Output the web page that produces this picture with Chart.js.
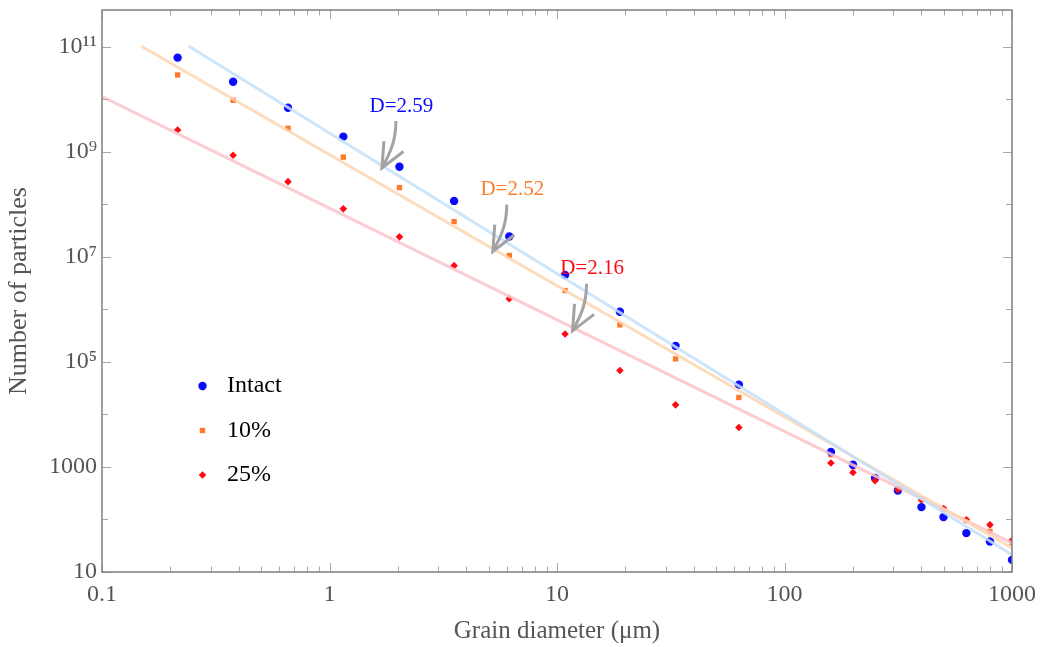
<!DOCTYPE html>
<html>
<head>
<meta charset="utf-8">
<script src="https://cdn.jsdelivr.net/npm/chart.js@4.4.1/dist/chart.umd.min.js"></script>
<style>
  html, body { margin: 0; padding: 0; background: #ffffff; }
  #wrap { width: 1042px; height: 647px; }
</style>
</head>
<body>
<div id="wrap"><canvas id="chart" width="1042" height="647"></canvas></div>
<script>
// Grain diameters (µm) and particle counts for each sample
const diameters = [0.215, 0.377, 0.657, 1.15, 2.03, 3.53, 6.17, 10.85, 18.9, 33.2, 63, 160, 200, 250, 315, 400, 500, 630, 800, 1000];
const intact    = [6.2e10, 2.16e10, 6.9e9, 1.94e9, 5.2e8, 1.16e8, 2.43e7, 4.5e6, 9.0e5, 2.02e5, 3.66e4, 1920, 1100, 614, 357, 172, 111, 55, 38, 17];
const crushed10 = [2.9e10, 9.55e9, 2.8e9, 7.9e8, 2.08e8, 4.68e7, 1.06e7, 2.28e6, 5.07e5, 1.14e5, 2.1e4, 1705, 1020, 631, 368, 238, 160, 96, 59, 36.5];
const crushed25 = [2.6e9, 8.6e8, 2.7e8, 8.2e7, 2.4e7, 6.8e6, 1.6e6, 3.39e5, 6.85e4, 1.52e4, 5640, 1185, 785, 546, 368, 238, 162, 99, 79, 40];

// Power-law fit lines (end points)
const fitIntactX = [0.241, 1000];
const fitIntactY = [1.02e11, 21.4];
const fit10X = [0.149, 1000];
const fit10Y = [1.02e11, 28.6];
const fit25X = [0.1, 1000];
const fit25Y = [1.12e10, 35.6];

// Fractal dimension labels
const dimLabels = ['D=2.59', 'D=2.52', 'D=2.16'];
const dimArrowTipX = [1.70, 5.22, 11.7];
const dimArrowTipY = [4.9e8, 1.26e7, 3.9e5];

// Axis ticks
const xTickValues = [0.1, 1, 10, 100, 1000];
const xTickLabels = ['0.1', '1', '10', '100', '1000'];
const yTickValues = [10, 1e2, 1e3, 1e4, 1e5, 1e6, 1e7, 1e8, 1e9, 1e10, 1e11];
const yTickLabels = ['10', '', '1000', '', '10\u2075', '', '10\u2077', '', '10\u2079', '', '10\u00b9\u00b9'];

const seriesNames = ['Intact', '10%', '25%'];

const BLUE = '#0a0aff';
const ORANGE = '#ff7a2a';
const RED = '#ff0a14';
const SERIF = '"Liberation Serif", "Times New Roman", serif';

const pts = (xs, ys) => xs.map((x, i) => ({ x: x, y: ys[i] }));

const pointDataset = (label, ys, color, style, radius, order) => ({
  label: label,
  data: pts(diameters, ys),
  showLine: false,
  pointStyle: style,
  pointRadius: radius,
  pointHoverRadius: radius,
  pointBackgroundColor: color,
  pointBorderColor: color,
  pointBorderWidth: 0,
  order: order
});

const lineDataset = (label, xs, ys, color) => ({
  label: label,
  data: pts(xs, ys),
  showLine: true,
  borderColor: color,
  borderWidth: 3,
  pointRadius: 0,
  pointHoverRadius: 0,
  order: -1
});

// Frame around the plot area with inward tick marks on all four sides
const frameTicks = {
  id: 'frameTicks',
  afterDatasetsDraw(chart) {
    const { ctx, chartArea: a, scales: { x, y } } = chart;
    ctx.save();
    ctx.strokeStyle = '#a8a8a8';
    ctx.lineWidth = 1;
    const xTick = (v, len) => {
      const px = Math.round(x.getPixelForValue(v)) + 0.5;
      ctx.beginPath();
      ctx.moveTo(px, a.bottom); ctx.lineTo(px, a.bottom - len);
      ctx.moveTo(px, a.top); ctx.lineTo(px, a.top + len);
      ctx.stroke();
    };
    const yTick = (v, len) => {
      const py = Math.round(y.getPixelForValue(v)) + 0.5;
      ctx.beginPath();
      ctx.moveTo(a.left, py); ctx.lineTo(a.left + len, py);
      ctx.moveTo(a.right, py); ctx.lineTo(a.right - len, py);
      ctx.stroke();
    };
    for (let e = -1; e < 3; e++) {
      for (let k = 2; k <= 9; k++) xTick(k * Math.pow(10, e), 5.5);
    }
    xTickValues.forEach(v => xTick(v, 9));
    yTickValues.forEach((v, i) => yTick(v, yTickLabels[i] ? 9 : 6));
    ctx.strokeStyle = '#7f7f7f';
    ctx.lineWidth = 1.5;
    ctx.strokeRect(a.left, a.top, a.right - a.left, a.bottom - a.top);
    ctx.restore();
  }
};

// Legend drawn inside the plot area
const insetLegend = {
  id: 'insetLegend',
  afterDatasetsDraw(chart) {
    const { ctx, chartArea: a } = chart;
    ctx.save();
    ctx.font = '24px ' + SERIF;
    ctx.textBaseline = 'middle';
    ctx.textAlign = 'left';
    seriesNames.forEach((name, i) => {
      const ds = chart.data.datasets.find(d => d.label === name);
      const mx = a.left + 100.5;
      const my = a.top + 376 + i * 44.5;
      ctx.fillStyle = ds.pointBackgroundColor;
      Chart.helpers.drawPoint(ctx, {
        pointStyle: ds.pointStyle, radius: ds.pointRadius, rotation: 0, borderWidth: 0
      }, mx, my);
      ctx.fillStyle = '#000000';
      ctx.fillText(name, a.left + 125, my);
    });
    ctx.restore();
  }
};

// Curved arrows with the fractal dimension of each fit
const dimAnnotations = {
  id: 'dimAnnotations',
  afterDatasetsDraw(chart) {
    const { ctx, scales: { x, y } } = chart;
    const colors = [BLUE, ORANGE, RED];
    ctx.save();
    dimLabels.forEach((txt, i) => {
      const tx = x.getPixelForValue(dimArrowTipX[i]);
      const ty = y.getPixelForValue(dimArrowTipY[i]);
      ctx.strokeStyle = '#a3a3a3';
      ctx.lineWidth = 3;
      ctx.lineJoin = 'miter';
      ctx.beginPath();
      ctx.moveTo(tx + 14, ty - 47);
      ctx.bezierCurveTo(tx + 14, ty - 30, tx + 10, ty - 18, tx + 1, ty - 2);
      ctx.stroke();
      ctx.beginPath();
      ctx.moveTo(tx + 2, ty - 27);
      ctx.lineTo(tx, ty);
      ctx.lineTo(tx + 21.5, ty - 16.5);
      ctx.stroke();
      ctx.font = '21px ' + SERIF;
      ctx.textAlign = 'center';
      ctx.textBaseline = 'middle';
      ctx.fillStyle = colors[i];
      ctx.fillText(txt, tx + 19.5, ty - 62);
    });
    ctx.restore();
  }
};

const tickFont = { family: SERIF, size: 24 };

new Chart(document.getElementById('chart'), {
  type: 'scatter',
  data: {
    datasets: [
      pointDataset('25%', crushed25, RED, 'rectRot', 3.8, 0),
      pointDataset('Intact', intact, BLUE, 'circle', 4.2, 1),
      pointDataset('10%', crushed10, ORANGE, 'rect', 3.8, 2),
      lineDataset('Intact fit', fitIntactX, fitIntactY, 'rgba(196,224,250,0.85)'),
      lineDataset('10% fit', fit10X, fit10Y, 'rgba(253,214,178,0.85)'),
      lineDataset('25% fit', fit25X, fit25Y, 'rgba(250,196,200,0.85)')
    ]
  },
  options: {
    responsive: false,
    animation: false,
    devicePixelRatio: 1,
    layout: { padding: { left: 0, top: 10, right: 30, bottom: 0 } },
    plugins: { legend: { display: false }, tooltip: { enabled: false } },
    scales: {
      x: {
        type: 'logarithmic',
        min: 0.1,
        max: 1000,
        afterFit: s => { s.height = 75; s.paddingLeft = 0; s.paddingRight = 0; },
        afterBuildTicks: s => { s.ticks = xTickValues.map(v => ({ value: v })); },
        grid: { display: false, drawTicks: false },
        border: { display: false },
        ticks: {
          autoSkip: false,
          maxRotation: 0,
          padding: 8,
          color: '#555555',
          font: tickFont,
          callback: (v, i) => xTickLabels[i]
        },
        title: {
          display: true,
          text: 'Grain diameter (\u03bcm)',
          color: '#555555',
          font: { family: SERIF, size: 25 },
          padding: { top: 0, bottom: 1 }
        }
      },
      y: {
        type: 'logarithmic',
        min: 10,
        max: 5e11,
        afterFit: s => { s.width = 102; s.paddingTop = 0; s.paddingBottom = 0; },
        afterBuildTicks: s => { s.ticks = yTickValues.map(v => ({ value: v })); },
        grid: { display: false, drawTicks: false },
        border: { display: false },
        ticks: {
          autoSkip: false,
          padding: 5,
          color: '#555555',
          font: tickFont,
          callback: (v, i) => yTickLabels[i]
        },
        title: {
          display: true,
          text: 'Number of particles',
          color: '#555555',
          font: { family: SERIF, size: 26 },
          padding: { top: 4, bottom: 0 }
        }
      }
    }
  },
  plugins: [frameTicks, insetLegend, dimAnnotations]
});
</script>
</body>
</html>
